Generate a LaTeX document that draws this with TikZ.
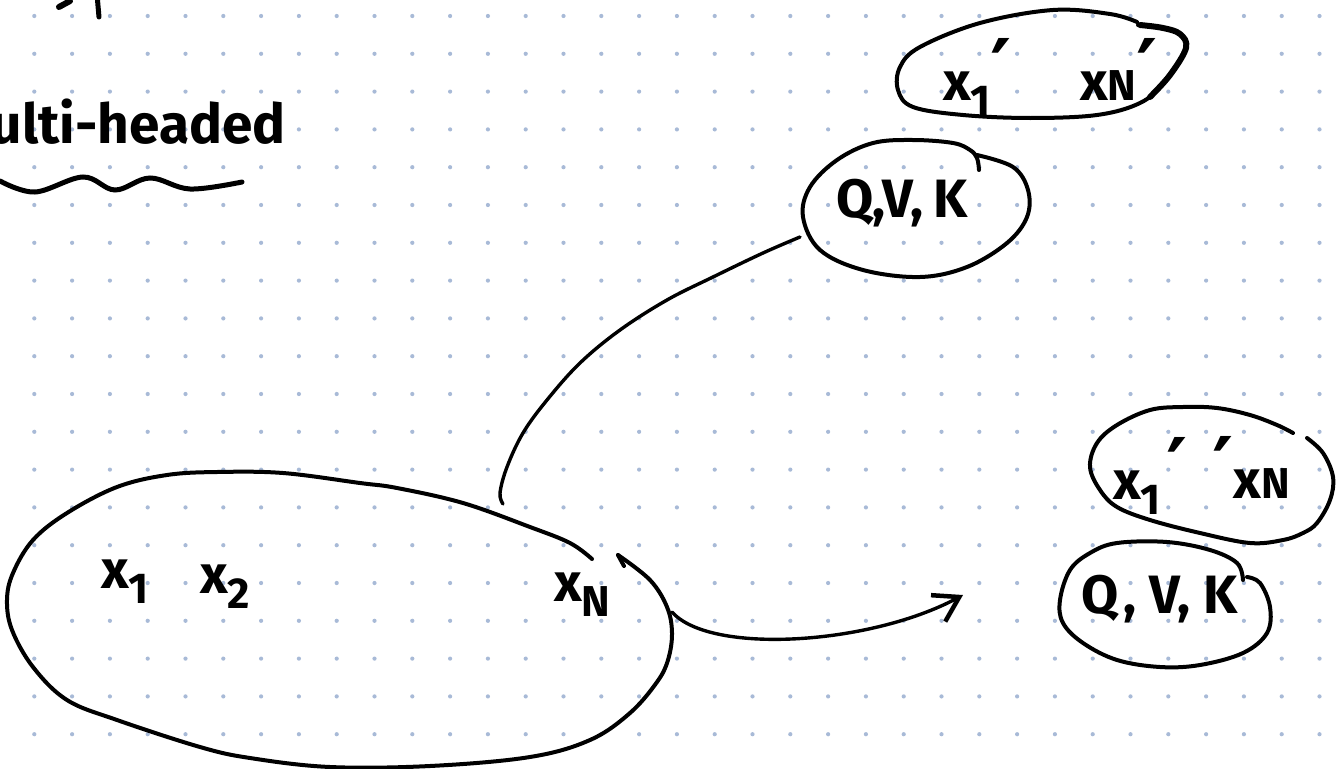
\documentclass[tikz,border=0pt]{standalone}
\usepackage{fontspec}
\setmainfont{Fira Sans}
\newfontfamily\primefont{DejaVu Sans}
\usetikzlibrary{arrows.meta}
\definecolor{gridblue}{RGB}{168,186,215}
% subscript, small letter and prime helpers for the hand-lettered labels
\newcommand\lo[1]{\raisebox{-0.28em}{\scalebox{0.8}{#1}}}
\newcommand\sm[1]{\scalebox{0.8}{#1}}
\newcommand\pr{\raisebox{0.05em}{\scalebox{1.5}{\primefont ′}}}
\begin{document}
\begin{tikzpicture}[x=1pt,y=-1pt,
  ink/.style={line width=4pt, line cap=round, line join=round, black},
  heavy/.style={line width=6pt, line cap=round, line join=round, black},
  link/.style={line width=3.4pt, line cap=round, line join=round, black},
  lbl/.style={inner sep=0pt, anchor=base west, font=\fontsize{54}{60}\selectfont\bfseries},
  title/.style={inner sep=0pt, anchor=base east, font=\fontsize{55}{62}\selectfont\bfseries}]
\useasboundingbox (0,0) rectangle (1343,768);
\fill[white] (0,0) rectangle (1343,768);

% dotted paper
\foreach \i in {0,...,34}
  \foreach \j in {0,...,19}
    \fill[gridblue] (34.3+37.8*\i, 16+37.8*\j) circle[radius=2.1];

% heading fragments at the top edge
\draw[heavy] (59,7) -- (70,1);
\draw[line width=5pt, line cap=round] (97.5,0) -- (99,17);

% heading and its wavy underline
\node[title] (head) at (286,143) {multi-headed};
\draw[line width=5pt, line cap=round] plot[smooth, tension=0.6] coordinates
  {(0,181) (35,192) (83,177) (115,190) (150,178) (190,189) (242,182)};

% the input set
\draw[ink] (624,566) -- (618,555);
\draw[ink] plot[smooth, tension=0.6] coordinates {(618,555) (650,580) (667,607) (672,633)
  (668,660) (657,682) (630,713) (590,740) (530,757) (430,766) (330,767) (250,758)
  (200,747) (117,720) (67,700) (33,667) (12,630) (7,600) (13,573) (33,540) (67,513)
  (117,487) (167,475) (217,472) (283,473) (360,483) (397,488) (463,503) (530,527)
  (570,543) (592,559)};
\node[lbl] (x1) at (101,588) {x\lo{1}};
\node[lbl] (x2) at (200,593) {x\lo{2}};
\node[lbl] (xN) at (554,601) {x\lo{N}};

% upper head: Q, V, K and its outputs
\draw[ink] plot[smooth, tension=0.6] coordinates {(977,155) (1013,167) (1028,190)
  (1027,217) (1007,243) (967,267) (920,277) (863,270) (820,250) (803,217) (810,187)
  (837,160) (873,143) (913,140) (953,143) (970,150) (977,158) (979,170)};
\node[lbl] (qvkA) at (836,217) {Q,V,\kern0.18em K};

\draw[ink] plot[smooth, tension=0.6] coordinates {(1138,25) (1163,28) (1180,34)
  (1186,48) (1163,83) (1140,103) (1097,115) (1030,118) (963,115) (913,107) (898,90)
  (900,67) (920,47) (980,23) (1053,10) (1110,14) (1137,22)};
\draw[heavy] plot[smooth, tension=0.6] coordinates {(1140,25) (1163,28) (1180,34)
  (1186,48) (1170,75) (1150,97)};
\node[lbl] (xa1) at (943,100) {x\lo{1}\pr};
\node[lbl] (xaN) at (1080,100) {x\sm{N}\pr};

% lower head: Q, V, K and its outputs
\draw[ink] plot[smooth, tension=0.6] coordinates {(1247,577) (1260,583) (1270,607)
  (1267,633) (1243,653) (1200,665) (1160,667) (1117,660) (1083,643) (1063,623)
  (1060,600) (1070,570) (1090,553) (1117,543) (1167,542) (1210,550) (1237,563)
  (1243,580)};
\node[lbl] (qvkB) at (1081,613) {Q\kern0.1em , V, K};

\draw[ink] plot[smooth, tension=0.6] coordinates {(1307,438) (1323,453) (1333,477)
  (1330,500) (1317,523) (1303,533) (1283,540) (1250,543) (1200,533) (1150,520)
  (1117,507) (1100,490) (1090,467) (1097,443) (1117,425) (1150,410) (1183,407)
  (1217,408) (1250,415) (1277,425) (1293,433)};
\node[lbl] (xb1) at (1113,499) {x\lo{1}\kern0.1em\pr};
\node[lbl] (xbN) at (1212,498) {\pr x\sm{N}};

% connectors
\coordinate (setTop) at (503,504);
\coordinate (qvkWest) at (800,237);
\coordinate (setEast) at (672,612);
\coordinate (headTip) at (963,595);
\draw[link] plot[smooth, tension=0.6] coordinates {(setTop) (500,493) (507,467)
  (523,433) (547,400) (580,363) (620,330) (667,300) (713,277) (763,253) (qvkWest)};
\draw[link, -{Straight Barb[length=24pt,width=30pt,line width=4.5pt]}]
  (setEast) .. controls (710,655) and (870,645) .. (headTip);
\end{tikzpicture}
\end{document}
